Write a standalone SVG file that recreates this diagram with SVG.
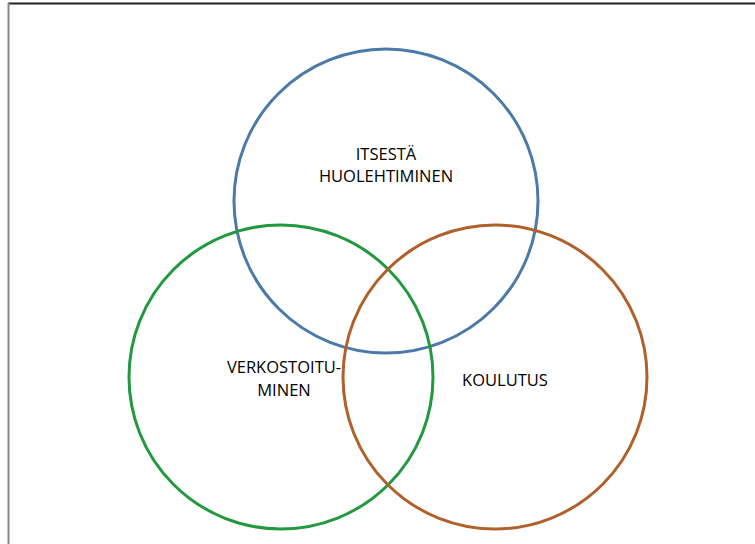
<svg xmlns="http://www.w3.org/2000/svg" width="755" height="544" viewBox="0 0 755 544">
  <style>
    .ring { fill: none; stroke-width: 3; }
    .label { font-family: "Open Sans", "Liberation Sans", sans-serif; font-size: 16.5px; fill: #000; text-anchor: middle; }
  </style>
  <rect width="755" height="544" fill="#fff"/>
  <!-- page frame -->
  <line x1="8" y1="3.5" x2="755" y2="3.5" stroke="#222" stroke-width="2"/>
  <line x1="8.5" y1="3" x2="8.5" y2="544" stroke="#888" stroke-width="2"/>

  <g id="itsesta-huolehtiminen">
    <circle class="ring" cx="386" cy="201" r="152" stroke="#4b7aa8"/>
    <text class="label" x="386" y="160">ITSESTÄ</text>
    <text class="label" x="386" y="182">HUOLEHTIMINEN</text>
  </g>
  <g id="verkostoituminen">
    <circle class="ring" cx="281" cy="377" r="152" stroke="#22983f"/>
    <text class="label" x="284" y="373">VERKOSTOITU-</text>
    <text class="label" x="284" y="396">MINEN</text>
  </g>
  <g id="koulutus">
    <circle class="ring" cx="495" cy="377" r="152" stroke="#b0612b"/>
    <text class="label" x="505" y="386">KOULUTUS</text>
  </g>
</svg>
